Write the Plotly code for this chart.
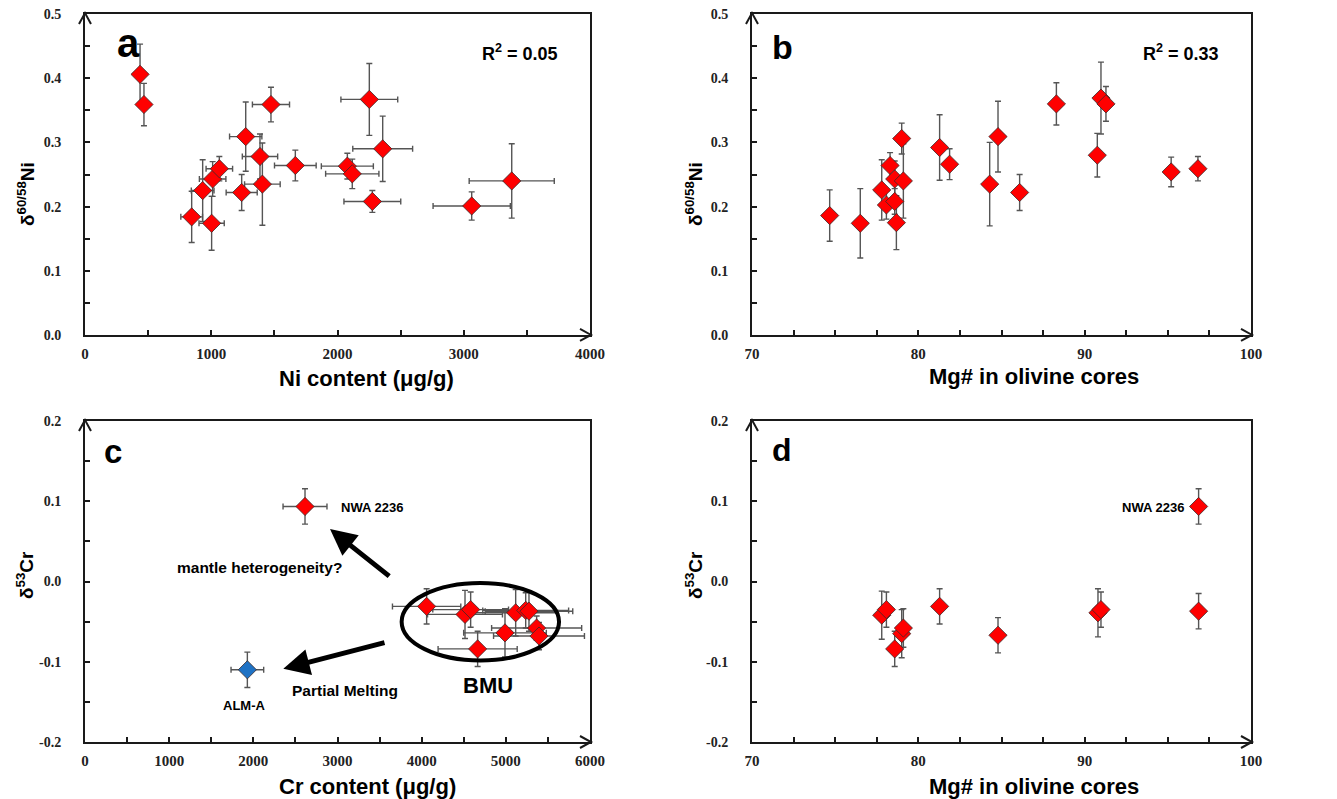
import plotly.graph_objects as go

W, H = 1337, 799

# ---------- data ----------
# panel a: Ni content vs d60/58Ni
a_ni = [436, 467, 845, 932, 1011, 1003, 1064, 1241, 1273, 1386, 1405, 1473, 1666, 2078, 2117, 2252, 2276, 2358, 3063, 3380]
a_ni_err = [30, 40, 86, 90, 105, 100, 105, 123, 128, 140, 141, 147, 165, 206, 211, 225, 225, 237, 306, 337]
a_d = [0.406, 0.359, 0.184, 0.225, 0.243, 0.174, 0.259, 0.222, 0.309, 0.278, 0.235, 0.359, 0.264, 0.263, 0.251, 0.367, 0.208, 0.290, 0.201, 0.240]
a_d_err = [0.047, 0.033, 0.040, 0.048, 0.027, 0.042, 0.019, 0.028, 0.054, 0.035, 0.064, 0.027, 0.024, 0.020, 0.023, 0.056, 0.017, 0.051, 0.022, 0.058]

# panel b: Mg# vs d60/58Ni
b_mg = [74.67, 76.51, 77.8, 78.08, 78.3, 78.58, 78.58, 78.68, 79.0, 79.1, 81.28, 81.88, 84.29, 84.79, 86.09, 88.3, 90.76, 90.98, 91.28, 95.2, 96.81]
b_d = [0.186, 0.174, 0.226, 0.2025, 0.264, 0.243, 0.208, 0.175, 0.306, 0.240, 0.292, 0.266, 0.235, 0.309, 0.222, 0.360, 0.280, 0.369, 0.360, 0.254, 0.259]
b_d_err = [0.040, 0.054, 0.047, 0.022, 0.020, 0.028, 0.020, 0.042, 0.024, 0.058, 0.051, 0.024, 0.065, 0.055, 0.028, 0.033, 0.034, 0.056, 0.027, 0.023, 0.019]

# panel c: Cr content vs d53Cr
c_cr = [4059, 4515, 4582, 4665, 4990, 5117, 5236, 5275, 5366, 5394]
c_cr_err = [406, 445, 450, 470, 491, 500, 510, 520, 535, 540]
c_d = [-0.031, -0.041, -0.035, -0.084, -0.064, -0.039, -0.036, -0.037, -0.058, -0.068]
c_d_err = [0.022, 0.030, 0.022, 0.022, 0.030, 0.029, 0.022, 0.025, 0.015, 0.017]
nwa_cr, nwa_cr_err, nwa_d, nwa_d_err = [2614], [261], [0.0935], [0.022]
alm_cr, alm_cr_err, alm_d, alm_d_err = [1929], [194], [-0.110], [0.022]

# panel d: Mg# vs d53Cr
d_mg = [77.8, 78.08, 78.58, 79.0, 79.1, 81.28, 84.79, 90.8, 90.98, 96.85]
d_d = [-0.042, -0.035, -0.084, -0.065, -0.058, -0.031, -0.067, -0.039, -0.035, -0.037]
d_d_err = [0.030, 0.022, 0.022, 0.030, 0.024, 0.022, 0.022, 0.030, 0.022, 0.022]
nwa_mg, nwa_mg_d, nwa_mg_err = [96.85], [0.0935], [0.022]

# tick labels
ni_ticks = [0, 1000, 2000, 3000, 4000]
cr_ticks = [0, 1000, 2000, 3000, 4000, 5000, 6000]
mg_ticks = [70, 80, 90, 100]
ni_delta_ticks = [0.0, 0.1, 0.2, 0.3, 0.4, 0.5]
cr_delta_ticks = [-0.2, -0.1, 0.0, 0.1, 0.2]

# BMU ellipse extent (data units of panel c)
bmu_x = [3762, 5632]
bmu_y = [-0.0984, -0.0019]

# ---------- styling ----------
RED = "#FF0000"
BLUE = "#1F72C4"
ERRC = "#555555"
AXC = "#1a1a1a"


def px(x):
    return x / W


def py(y):
    return 1 - y / H


def marker(color):
    return dict(symbol="diamond", size=14, color=color, line=dict(color="#3a2a2a", width=0.8))


def ey(arr):
    return dict(type="data", array=arr, visible=True, color=ERRC, thickness=1.4, width=3)


fig = go.Figure()

fig.add_trace(go.Scatter(x=a_ni, y=a_d, mode="markers", marker=marker(RED),
                         error_y=ey(a_d_err), error_x=ey(a_ni_err), xaxis="x", yaxis="y", showlegend=False))
fig.add_trace(go.Scatter(x=b_mg, y=b_d, mode="markers", marker=marker(RED),
                         error_y=ey(b_d_err), xaxis="x2", yaxis="y2", showlegend=False))
fig.add_trace(go.Scatter(x=c_cr, y=c_d, mode="markers", marker=marker(RED),
                         error_y=ey(c_d_err), error_x=ey(c_cr_err), xaxis="x3", yaxis="y3", showlegend=False))
fig.add_trace(go.Scatter(x=nwa_cr, y=nwa_d, mode="markers", marker=marker(RED),
                         error_y=ey(nwa_d_err), error_x=ey(nwa_cr_err), xaxis="x3", yaxis="y3", showlegend=False))
fig.add_trace(go.Scatter(x=alm_cr, y=alm_d, mode="markers", marker=marker(BLUE),
                         error_y=ey(alm_d_err), error_x=ey(alm_cr_err), xaxis="x3", yaxis="y3", showlegend=False))
fig.add_trace(go.Scatter(x=d_mg, y=d_d, mode="markers", marker=marker(RED),
                         error_y=ey(d_d_err), xaxis="x4", yaxis="y4", showlegend=False))
fig.add_trace(go.Scatter(x=nwa_mg, y=nwa_mg_d, mode="markers", marker=marker(RED),
                         error_y=ey(nwa_mg_err), xaxis="x4", yaxis="y4", showlegend=False))


def common(size):
    return dict(showline=True, linecolor=AXC, linewidth=2, mirror=True, automargin=False,
                ticks="inside", ticklen=5, tickwidth=1.5, tickcolor=AXC,
                showgrid=False, zeroline=False,
                tickfont=dict(family="Liberation Serif", size=size, color="#222"))


def xax(rng, tickv, minor, dom, anchor):
    d = common(15)
    d.update(range=rng, domain=dom, anchor=anchor, tickmode="array", tickvals=tickv,
             ticktext=["<b>%g</b>" % v for v in tickv], ticklabelstandoff=4,
             minor=dict(dtick=minor, tick0=rng[0], ticks="inside", ticklen=5, tickwidth=1.5, tickcolor=AXC))
    return d


def yax(rng, tickv, dom, anchor):
    d = common(14)
    d.update(range=rng, domain=dom, anchor=anchor, tickmode="array", tickvals=tickv,
             ticktext=["<b>%.1f</b>" % v for v in tickv], ticklabelstandoff=19,
             minor=dict(dtick=0.05, tick0=rng[0], ticks="inside", ticklen=5, tickwidth=1.5, tickcolor=AXC))
    return d


L_A, R_A, L_B, R_B = 85, 590, 752, 1251
T_TOP, B_TOP, T_BOT, B_BOT = 14, 335, 421, 742

fig.update_layout(
    width=W, height=H, margin=dict(l=0, r=0, t=0, b=0, autoexpand=False),
    paper_bgcolor="white", plot_bgcolor="white",
    xaxis=xax([0, 4000], ni_ticks, 500, [px(L_A), px(R_A)], "y"),
    yaxis=yax([0, 0.5], ni_delta_ticks, [py(B_TOP), py(T_TOP)], "x"),
    xaxis2=xax([70, 100], mg_ticks, 2.5, [px(L_B), px(R_B)], "y2"),
    yaxis2=yax([0, 0.5], ni_delta_ticks, [py(B_TOP), py(T_TOP)], "x2"),
    xaxis3=xax([0, 6000], cr_ticks, 500, [px(L_A), px(R_A)], "y3"),
    yaxis3=yax([-0.2, 0.2], cr_delta_ticks, [py(B_BOT), py(T_BOT)], "x3"),
    xaxis4=xax([70, 100], mg_ticks, 2.5, [px(L_B), px(R_B)], "y4"),
    yaxis4=yax([-0.2, 0.2], cr_delta_ticks, [py(B_BOT), py(T_BOT)], "x4"),
)


# axis arrowheads (open chevrons) in paper coordinates at the axis ends
def chevron(points):
    path = "M%.5f,%.5f L%.5f,%.5f L%.5f,%.5f" % tuple(v for p in points for v in (px(p[0]), py(p[1])))
    fig.add_shape(type="path", xref="paper", yref="paper", path=path, layer="above",
                  line=dict(color=AXC, width=2))


for L, R, T, B in [(L_A, R_A, T_TOP, B_TOP), (L_B, R_B, T_TOP, B_TOP),
                   (L_A, R_A, T_BOT, B_BOT), (L_B, R_B, T_BOT, B_BOT)]:
    chevron([(L - 6, T + 10), (L, T - 1), (L + 6, T + 10)])
    chevron([(R - 10, B - 6), (R + 1, B), (R - 10, B + 6)])

# BMU ellipse
fig.add_shape(type="circle", xref="x3", yref="y3", x0=bmu_x[0], x1=bmu_x[1], y0=bmu_y[0], y1=bmu_y[1],
              line=dict(color="black", width=4))

# arrows in panel c
fig.add_annotation(xref="x3", yref="y3", axref="x3", ayref="y3", x=2911, y=0.0653, ax=3632, ay=0.0052,
                   text="", showarrow=True, arrowhead=2, arrowsize=1.05, arrowwidth=5, arrowcolor="black")
fig.add_annotation(xref="x3", yref="y3", axref="x3", ayref="y3", x=2356, y=-0.1088, ax=3576, ay=-0.0756,
                   text="", showarrow=True, arrowhead=2, arrowsize=1.05, arrowwidth=5, arrowcolor="black")

SANS = "Liberation Sans"


def label(text, x, y, size, angle=0, xanchor="center"):
    fig.add_annotation(xref="paper", yref="paper", x=px(x), y=py(y), text="<b>%s</b>" % text, showarrow=False,
                       textangle=angle, xanchor=xanchor, yanchor="middle",
                       font=dict(family=SANS, size=size, color="black"))


# panel letters
label("a", 128, 43, 40)
label("b", 782, 47, 34)
label("c", 113, 451, 33)
label("d", 782, 450, 32)

# R^2
label("R<sup>2</sup> = 0.05", 520, 52, 18)
label("R<sup>2</sup> = 0.33", 1181, 52, 18)

# axis titles
label("δ<sup>60/58</sup>Ni", 26, 194, 19, angle=-90)
label("δ<sup>60/58</sup>Ni", 694, 194, 19, angle=-90)
label("δ<sup>53</sup>Cr", 25, 575, 19, angle=-90)
label("δ<sup>53</sup>Cr", 694, 575, 19, angle=-90)
label("Ni content (μg/g)", 366, 378, 22)
label("Mg# in olivine cores", 1034, 377, 22)
label("Cr content (μg/g)", 367, 786, 22)
label("Mg# in olivine cores", 1034, 786, 22)

# panel c / d text
label("NWA 2236", 372, 507, 13)
label("mantle heterogeneity?", 259, 567, 15.5)
label("Partial Melting", 345, 690, 15.5)
label("BMU", 488, 685, 22)
label("ALM-A", 244, 705, 13)
label("NWA 2236", 1186, 507, 13, xanchor="right")

fig.write_html("out.html", config={"displayModeBar": False},
               post_script="document.body.style.margin='0';document.body.style.overflow='hidden';")
